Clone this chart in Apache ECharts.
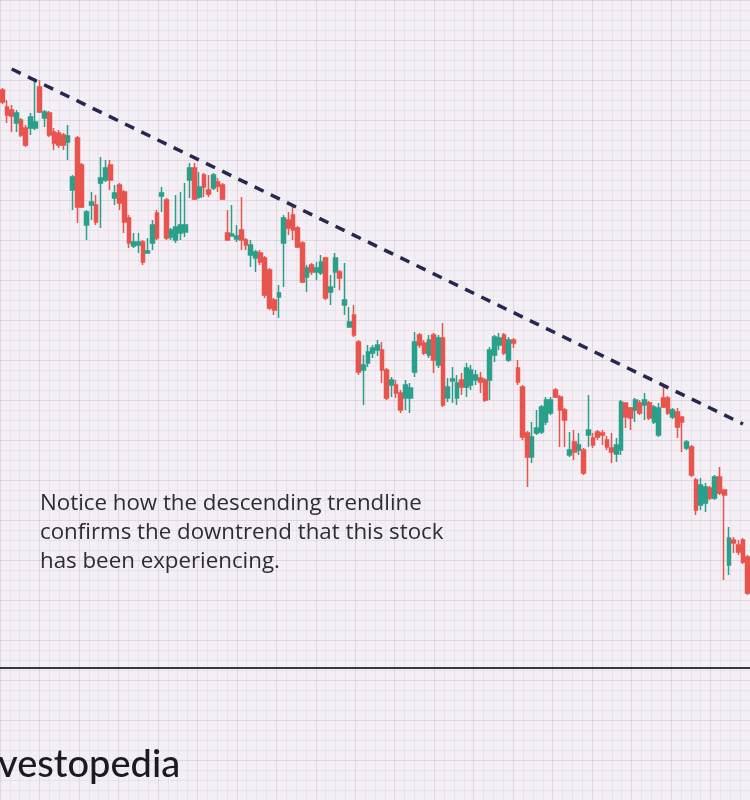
<!DOCTYPE html>
<html>
<head>
<meta charset="utf-8">
<script src="https://cdn.jsdelivr.net/npm/echarts@6/dist/echarts.min.js"></script>
<style>
  html, body { margin: 0; padding: 0; background: #f4eff4; }
  #chart { width: 750px; height: 800px; }
</style>
</head>
<body>
<div id="chart"></div>
<script>
// Candle values (price units), left to right
const opens = [71.0,69.3,69.0,67.7,68.0,67.2,67.2,67.2,71.3,68.2,68.7,66.8,66.7,66.5,65.8,61.0,66.2,63.5,57.5,59.5,
  59.5,61.7,62.0,63.5,60.2,61.5,60.8,58.2,55.4,55.5,55.8,54.7,55.7,58.7,60.4,60.0,56.3,56.0,56.7,56.8,
  62.0,63.2,60.3,62.5,61.0,61.2,61.8,61.5,56.7,56.4,56.1,57.0,56.0,54.5,54.2,54.7,54.2,53.0,50.0,50.3,
  55.7,58.0,58.5,57.2,55.7,52.3,53.5,52.8,52.7,54.2,50.8,52.8,52.8,49.5,47.3,48.5,45.8,43.0,43.7,44.7,
  45.0,45.0,43.0,41.5,41.5,40.7,40.2,40.2,42.8,46.5,45.7,44.5,46.5,43.5,46.2,40.2,41.9,40.2,42.0,41.3,
  41.5,42.0,42.2,42.0,42.0,44.5,45.5,46.5,44.0,46.0,43.2,41.3,36.7,34.3,36.7,36.8,37.8,38.7,41.0,40.3,
  39.0,34.5,35.8,35.0,35.0,36.5,36.2,36.8,36.7,36.0,35.2,34.6,35.0,39.7,39.2,39.0,39.7,39.5,39.7,37.8,
  36.5,40.2,40.2,38.3,38.8,38.3,35.2,35.3,32.0,29.5,29.7,31.2,30.2,32.3,31.0,23.5,26.0,25.5,26.0,24.3];
const closes = [69.8,68.5,68.4,68.7,66.5,65.5,68.3,67.8,68.8,68.8,66.5,65.7,65.5,65.5,66.4,62.3,59.3,59.3,58.8,59.8,
  57.8,62.2,63.2,62.0,60.7,59.7,57.8,55.7,55.8,55.8,53.8,54.9,57.5,56.2,60.7,56.2,57.0,57.3,57.5,57.5,
  63.2,60.1,61.3,61.3,60.6,62.5,61.4,60.1,56.0,56.6,56.4,56.0,55.5,55.5,54.8,53.8,50.5,49.2,49.0,50.7,
  58.2,57.2,57.0,55.3,51.8,53.2,52.8,53.2,53.8,50.2,51.3,54.2,52.2,50.0,47.8,46.5,42.8,43.5,44.8,45.2,
  45.5,43.0,40.2,42.0,40.7,39.0,41.5,41.2,45.8,45.5,44.7,46.0,44.0,46.2,39.5,41.3,42.1,41.7,41.3,43.2,
  43.0,42.5,41.8,40.0,45.0,46.3,46.2,44.7,46.0,45.7,41.8,36.3,34.3,36.3,37.2,39.3,40.0,40.0,40.3,39.0,
  38.0,35.0,34.8,35.5,32.7,37.0,35.5,36.3,36.5,35.3,34.8,35.5,39.8,38.3,38.2,40.0,38.7,40.0,38.2,39.3,
  39.2,39.3,38.7,39.0,37.3,37.8,35.8,32.5,29.0,31.5,31.3,30.2,32.3,30.7,30.5,26.2,25.7,24.8,23.8,20.7];
const lows = [69.6,67.7,66.8,66.8,66.3,65.3,66.5,67.0,68.7,67.3,66.3,65.0,65.2,65.0,64.0,59.0,57.7,59.2,56.0,58.0,
  57.5,57.2,61.8,61.0,59.5,59.0,56.7,55.2,55.2,54.7,53.5,54.7,55.0,56.0,58.8,56.0,56.0,55.7,56.0,56.3,
  60.2,60.0,60.1,60.3,60.3,61.0,60.8,60.0,56.0,56.4,55.8,55.0,55.0,53.3,52.8,53.5,50.2,49.0,48.5,48.2,
  51.3,56.5,56.0,55.2,51.7,50.8,52.5,52.0,52.5,50.0,49.5,51.2,51.0,48.5,47.3,46.3,42.5,39.5,43.3,44.2,
  44.4,41.7,40.0,40.3,40.2,38.7,39.0,38.7,42.3,45.2,44.5,44.2,42.7,43.2,39.3,39.8,39.7,39.5,40.5,40.3,
  41.0,41.5,40.7,39.8,40.0,43.8,45.0,44.5,43.8,45.2,41.5,36.0,31.3,33.7,36.5,36.6,37.5,38.5,40.2,35.3,
  35.3,34.3,34.0,34.5,32.5,35.3,35.2,36.0,35.5,35.0,33.7,33.8,34.5,37.2,37.0,37.8,38.5,38.0,38.0,37.6,
  36.3,39.2,38.5,38.1,36.2,34.8,35.0,32.3,28.5,29.0,28.8,30.0,30.0,30.5,22.0,22.5,24.7,24.5,23.6,20.5];
const highs = [71.2,70.0,69.5,69.0,68.2,67.5,68.7,72.2,72.0,69.0,68.9,67.2,67.0,66.7,67.5,62.5,66.4,63.7,59.0,60.8,
  60.5,64.3,64.0,64.0,61.5,61.7,61.0,58.5,56.7,56.7,56.0,56.2,58.0,59.0,61.3,60.2,57.2,60.5,60.8,61.7,
  63.7,63.7,62.8,62.7,62.5,62.7,62.2,61.7,59.0,59.5,57.5,60.3,56.2,56.0,55.0,55.0,54.4,53.2,50.2,51.5,
  58.5,58.8,59.3,57.4,55.9,53.5,53.7,53.8,54.5,54.3,52.5,54.7,53.0,53.7,49.3,49.5,46.0,44.5,45.5,45.5,
  46.0,45.8,43.2,42.3,42.0,41.0,42.0,41.7,46.8,46.7,46.0,46.5,46.7,46.5,47.7,42.2,43.3,42.5,42.7,43.7,
  43.5,43.0,42.8,42.2,45.3,46.5,46.7,46.7,46.3,46.2,44.0,41.5,36.9,37.8,39.0,39.5,40.3,40.3,41.2,40.5,
  39.2,36.8,37.0,36.7,35.2,40.5,36.7,37.0,37.0,36.4,36.7,36.2,40.0,39.7,39.3,40.2,40.0,40.7,39.9,39.5,
  39.7,41.5,40.4,39.2,39.2,38.3,36.0,35.5,32.2,32.2,31.7,31.4,32.5,33.3,31.0,27.3,26.3,26.0,26.2,24.5];

// Descending trendline: [candle index, price]
const trendStart = [2, 73.1];
const trendEnd = [158, 37.6];

const noteLines = [
  'Notice how the descending trendline',
  'confirms the downtrend that this stock',
  'has been experiencing.'
];
const logoText = 'vestopedia';

const categories = opens.map((_, i) => 'D' + (i + 1));
const candles = opens.map((o, i) => [o, closes[i], lows[i], highs[i]]);

const chart = echarts.init(document.getElementById('chart'), null, { renderer: 'canvas' });
chart.setOption({
  backgroundColor: '#f4eff4',
  animation: false,
  grid: { left: 0, right: 0, top: 0, bottom: 0, containLabel: false },
  xAxis: [
    {
      type: 'category', data: categories, boundaryGap: true,
      axisLine: { show: false }, axisTick: { show: false }, axisLabel: { show: false },
      splitLine: { show: false }
    },
    {
      type: 'value', min: 0, max: 760, interval: 40, position: 'top',
      axisLine: { show: false }, axisTick: { show: false }, axisLabel: { show: false },
      splitLine: { show: true, lineStyle: { color: 'rgba(200,186,204,0.45)', width: 1 } },
      minorTick: { show: false, splitNumber: 4 },
      minorSplitLine: { show: true, lineStyle: { color: 'rgba(210,198,214,0.30)', width: 1 } }
    }
  ],
  yAxis: {
    type: 'value', min: 0, max: 80, interval: 4,
    axisLine: { show: false }, axisTick: { show: false }, axisLabel: { show: false },
    splitLine: { show: true, lineStyle: { color: 'rgba(200,186,204,0.45)', width: 1 } },
    minorTick: { show: false, splitNumber: 4 },
    minorSplitLine: { show: true, lineStyle: { color: 'rgba(210,198,214,0.30)', width: 1 } }
  },
  series: [
    {
      type: 'candlestick',
      xAxisIndex: 0,
      data: candles,
      barWidth: 4.2,
      itemStyle: {
        color: '#2aa08b', color0: '#e8544e',
        borderColor: '#2aa08b', borderColor0: '#e8544e',
        borderWidth: 1.5
      }
    },
    {
      type: 'line',
      xAxisIndex: 0,
      data: [trendStart, trendEnd],
      symbol: 'none',
      lineStyle: { color: '#27284f', width: 3.5, type: [10, 8], cap: 'butt' },
      z: 5
    }
  ],
  graphic: [
    {
      type: 'line', z: 100, shape: { x1: 0, y1: 668, x2: 750, y2: 668 },
      style: { stroke: '#3a383f', lineWidth: 2 }
    },
    {
      type: 'text', left: 40, top: 489, z: 100,
      style: {
        text: noteLines.join('\n'),
        font: '400 22.3px "Open Sans", Lato, sans-serif',
        lineHeight: 29, fill: '#2f2c35'
      }
    },
    {
      type: 'text', left: -2, top: 746, z: 100,
      style: {
        text: logoText,
        font: '500 38px Lato, "Noto Sans", sans-serif',
        fill: '#1c1b24'
      }
    }
  ]
});
</script>
</body>
</html>
